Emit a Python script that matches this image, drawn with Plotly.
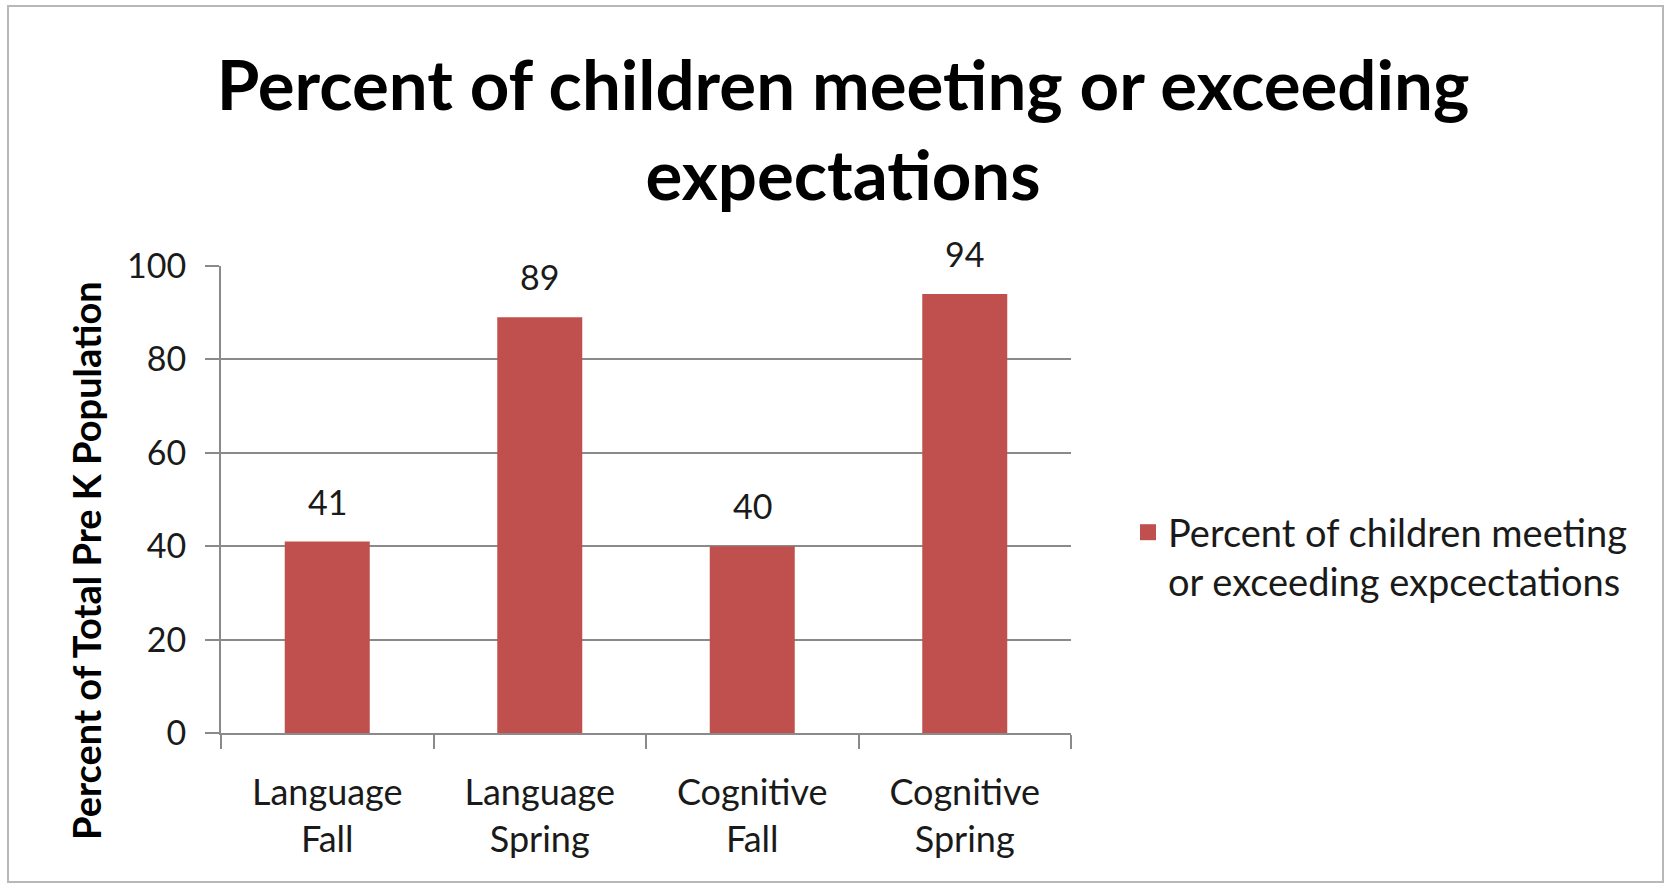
import plotly.graph_objects as go

categories = ["Language<br>Fall", "Language<br>Spring", "Cognitive<br>Fall", "Cognitive<br>Spring"]
values = [41, 89, 40, 94]
series_name = "Percent of children meeting<br>or exceeding expcectations"
title_text = "Percent of children meeting or exceeding<br>expectations"
y_title = "Percent of Total Pre K Population"
y_ticks = [0, 20, 40, 60, 80, 100]

BAR = "#C0504D"
GRID = "#8a8a8a"
FONT = "Lato"

# plot-area pixel geometry (used to convert decorations to paper coords)
L, R, T, B = 221, 600, 266, 151
W, H = 1671, 884
PW, PH = W - L - R, H - T - B

def px_x(x):
    return (x - L) / PW

def px_y(y):
    return (H - B - y) / PH

fig = go.Figure()
fig.add_trace(go.Bar(
    x=categories, y=values, marker=dict(color=BAR, line=dict(width=0)),
    showlegend=False, name=series_name,
))
fig.add_trace(go.Scatter(
    x=[None], y=[None], mode="markers", name=series_name,
    marker=dict(symbol="square", size=16, color=BAR),
))

for c, v in zip(categories, values):
    fig.add_annotation(x=c, y=v, text=str(v), showarrow=False, yanchor="bottom",
                       yshift=18, font=dict(family=FONT, size=34, color="#1a1a1a"))

fig.add_annotation(xref="paper", yref="paper", x=px_x(86), y=px_y(561), text=y_title,
                   textangle=-90, showarrow=False, xanchor="center", yanchor="middle",
                   font=dict(family=FONT, size=38, color="#000000", weight="bold"))

fig.add_shape(type="rect", xref="paper", yref="paper",
              x0=px_x(8), x1=px_x(1663), y0=px_y(882), y1=px_y(6),
              line=dict(color="#b8b8b8", width=2), layer="below")

fig.update_layout(
    width=W, height=H,
    margin=dict(l=L, r=R, t=T, b=B, autoexpand=False),
    plot_bgcolor="white", paper_bgcolor="white",
    bargap=0.6,
    title=dict(text=title_text, xref="container", yref="container", x=843 / W,
               xanchor="center", y=1 - 110 / H, yanchor="top",
               font=dict(family=FONT, size=69, color="#000000", weight="bold")),
    xaxis=dict(showline=True, linecolor=GRID, linewidth=2, ticks="outside",
               tickson="boundaries", ticklen=14, tickwidth=2, tickcolor=GRID,
               ticklabelstandoff=27,
               tickfont=dict(family=FONT, size=36, color="#1a1a1a"), showgrid=False),
    yaxis=dict(range=[0, 100], tickvals=y_ticks, showline=True, linecolor=GRID, linewidth=2,
               ticks="outside", ticklen=14, tickwidth=2, tickcolor=GRID,
               gridcolor=GRID, gridwidth=2, zeroline=False, ticklabelstandoff=12,
               tickfont=dict(family=FONT, size=34, color="#1a1a1a")),
    legend=dict(x=px_x(1128), xanchor="left", y=px_y(501), yanchor="top", valign="top",
                font=dict(family=FONT, size=38, color="#1a1a1a"), bgcolor="rgba(0,0,0,0)"),
)

fig.write_html("out.html", config={"displayModeBar": False},
               post_script="document.body.style.margin='0';")
